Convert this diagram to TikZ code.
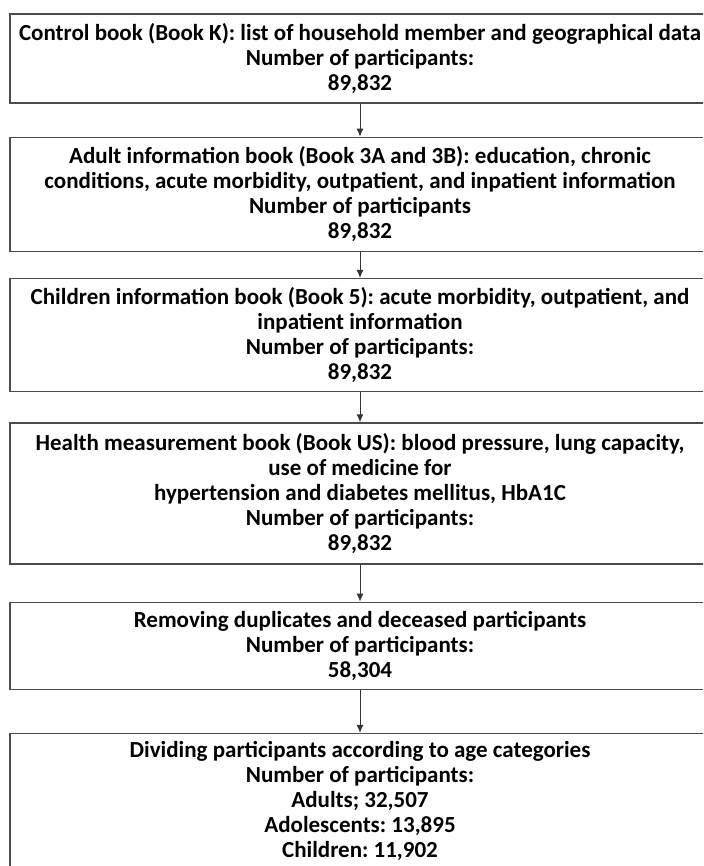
\documentclass[tikz,border=0pt]{standalone}
\usepackage{fontspec}
\setmainfont{Carlito}
\usetikzlibrary{positioning,arrows.meta}
\frenchspacing

\begin{document}
\begin{tikzpicture}[
  x=1pt, y=1pt,
  >={Latex[length=8pt,width=7pt]},
  font=\fontsize{23}{25}\selectfont\bfseries,
  stage/.style={draw=black!70, line width=1.3pt, align=center, minimum width=700pt, inner sep=0pt},
  flow/.style={->, line width=1pt, black!80},
]
\useasboundingbox (0,0) rectangle (703,-866);
\clip (0,0) rectangle (703,-866);

% Survey books
\node[stage, minimum height=89pt] (control) at (360,-58.5) {
  Control book (Book K): list of household member and geographical data\\
  Number of participants:\\
  89,832
};
\node[stage, minimum height=114pt, below=33pt of control] (adult) {
  Adult information book (Book 3A and 3B): education, chronic\\
  conditions, acute morbidity, outpatient, and inpatient information\\
  Number of participants\\
  89,832
};
\node[stage, minimum height=113pt, below=26pt of adult] (children) {
  Children information book (Book 5): acute morbidity, outpatient, and\\
  inpatient information\\
  Number of participants:\\
  89,832
};
\node[stage, minimum height=141pt, below=30pt of children] (health) {
  Health measurement book (Book US): blood pressure, lung capacity,\\
  use of medicine for\\
  hypertension and diabetes mellitus, HbA1C\\
  Number of participants:\\
  89,832
};

% Cleaning and grouping
\node[stage, minimum height=87pt, below=37pt of health] (dedup) {
  Removing duplicates and deceased participants\\
  Number of participants:\\
  58,304
};
\node[stage, minimum height=134pt, below=43pt of dedup] (agegroups) {
  Dividing participants according to age categories\\
  Number of participants:\\
  Adults; 32,507\\
  Adolescents: 13,895\\
  Children: 11,902
};

% Flow arrows
\draw[flow] (control) -- (adult);
\draw[flow] (adult) -- (children);
\draw[flow] (children) -- (health);
\draw[flow] (health) -- (dedup);
\draw[flow] (dedup) -- (agegroups);

\end{tikzpicture}
\end{document}
